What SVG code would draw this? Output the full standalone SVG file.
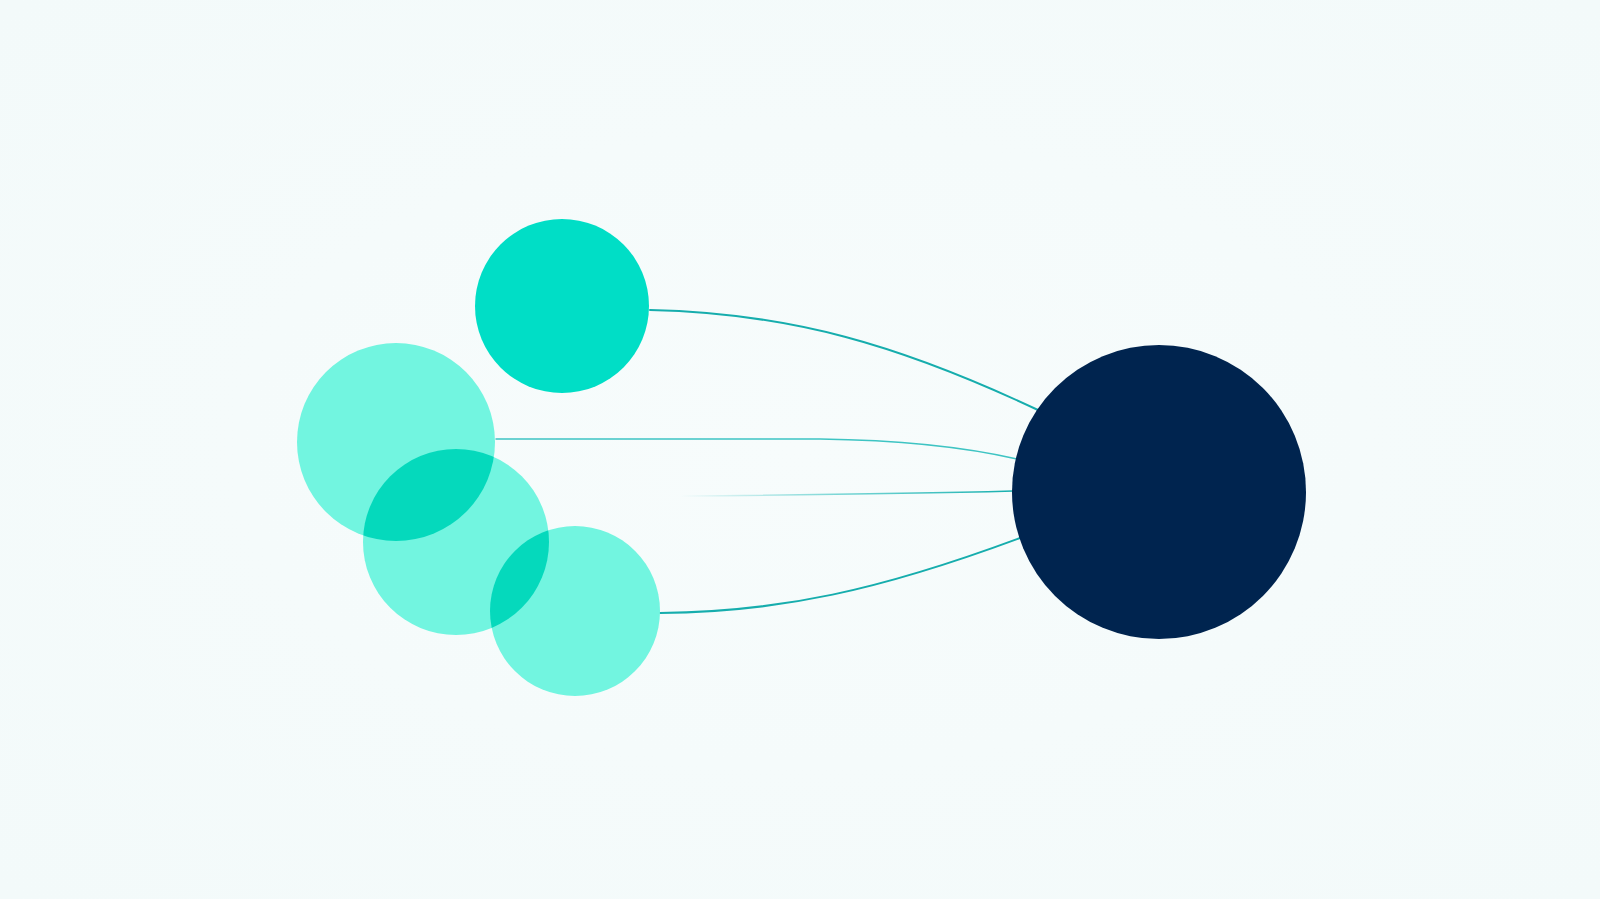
<svg xmlns="http://www.w3.org/2000/svg" width="1600" height="899" viewBox="0 0 1600 899">
  <style>
    .hub { fill: #00244F; }
    .solid { fill: #00DEC6; }
    .light { fill: #72F5E0; }
    .overlap { fill: #05D9BC; }
    .edge { fill: none; stroke: #16ADAD; stroke-width: 2; stroke-linecap: round; }
    .edge-thin { fill: none; stroke: #3EC4C3; stroke-width: 1.4; stroke-linecap: round; }
  </style>
  <defs>
    <linearGradient id="fadeIn" x1="680" y1="0" x2="1013" y2="0" gradientUnits="userSpaceOnUse">
      <stop offset="0" stop-color="#3CC3C2" stop-opacity="0"/>
      <stop offset="0.5" stop-color="#3CC3C2" stop-opacity="0.7"/>
      <stop offset="1" stop-color="#16AFAE" stop-opacity="1"/>
    </linearGradient>
    <radialGradient id="bgGrad" cx="0.5" cy="0.5" r="0.7">
      <stop offset="0" stop-color="#F7FCFC"/>
      <stop offset="1" stop-color="#F3FAFA"/>
    </radialGradient>
    <clipPath id="clipA"><circle cx="396" cy="442" r="99"/></clipPath>
    <clipPath id="clipB"><circle cx="456" cy="542" r="93"/></clipPath>
  </defs>
  <rect width="1600" height="899" fill="url(#bgGrad)"/>

  <g id="connectors">
    <path class="edge" d="M 650 310 C 790 313 900 345 1038 410"/>
    <path class="edge-thin" d="M 496 439 L 820 439 C 900 440 960 446 1017 459"/>
    <path d="M 680 496 C 800 495 900 494 1013 491" fill="none" stroke="url(#fadeIn)" stroke-width="1.4"/>
    <path class="edge" d="M 660 613 C 780 612 880 590 1020 538"/>
  </g>

  <g id="node-top">
    <circle class="solid" cx="562" cy="306" r="87"/>
  </g>
  <g id="node-a">
    <circle class="light" cx="396" cy="442" r="99"/>
  </g>
  <g id="node-b">
    <circle class="light" cx="456" cy="542" r="93"/>
    <circle class="overlap" cx="456" cy="542" r="93" clip-path="url(#clipA)"/>
  </g>
  <g id="node-c">
    <circle class="light" cx="575" cy="611" r="85"/>
    <circle class="overlap" cx="575" cy="611" r="85" clip-path="url(#clipB)"/>
  </g>
  <g id="node-hub">
    <circle class="hub" cx="1159" cy="492" r="147"/>
  </g>
</svg>
